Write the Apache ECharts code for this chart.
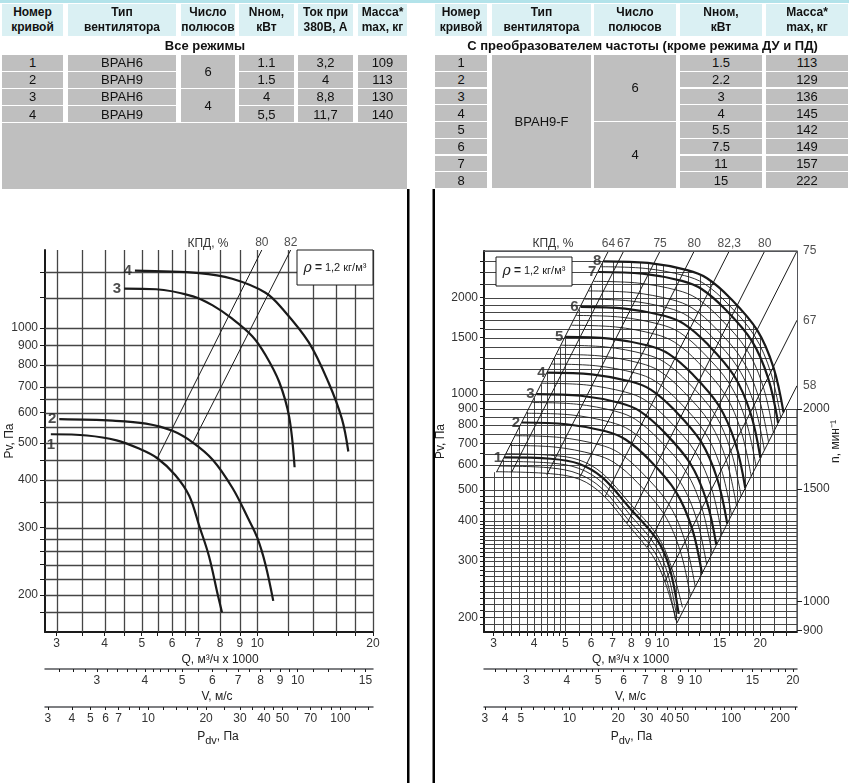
<!DOCTYPE html>
<html>
<head>
<meta charset="utf-8">
<script src="https://cdn.jsdelivr.net/npm/echarts/dist/echarts.min.js"></script>
<style>
html, body { margin: 0; padding: 0; background: #fff; }
#wrap { position: relative; width: 851px; height: 783px; overflow: hidden; }
#chart { position: absolute; left: 0; top: 0; width: 851px; height: 783px; }
#tables { position: absolute; left: 0; top: 0; width: 851px; height: 190px; }
.cell { position: absolute; display: flex; align-items: center; justify-content: center;
        text-align: center; box-sizing: border-box; white-space: pre-line; color: #111; }
.hd { background: #daf0f3; font: bold 12px 'Liberation Sans Narrow', 'Arial Narrow', 'Liberation Sans', sans-serif; line-height: 15px; }
.bd { background: #bfbfbf; font: 13px 'Liberation Sans', Arial, sans-serif; }
.ttl { position: absolute; top: 38px; height: 17px; line-height: 17px; text-align: center;
       font: bold 13px 'Liberation Sans', Arial, sans-serif; color: #111; }
.stripe { position: absolute; left: 0; top: 0; width: 849px; height: 3px; background: #b3e3ea; }
</style>
</head>
<body>
<div id="wrap">
  <div id="chart"></div>
  <div id="tables"></div>
</div>
<script>
'use strict';

// ---------- tables
const headL = ['Номер\nкривой', 'Тип\nвентилятора', 'Число\nполюсов', 'Nном,\nкВт', 'Ток при\n380В, А', 'Масса*\nmax, кг'];
const headR = ['Номер\nкривой', 'Тип\nвентилятора', 'Число\nполюсов', 'Nном,\nкВт', 'Масса*\nmax, кг'];
const titleL = 'Все режимы';
const titleR = 'С преобразователем частоты (кроме режима ДУ и ПД)';

const curveNoL = ['1', '2', '3', '4'];
const fanL = ['ВРАН6', 'ВРАН9', 'ВРАН6', 'ВРАН9'];
const polesL = [['6', 0, 2], ['4', 2, 4]];
const powerL = ['1.1', '1.5', '4', '5,5'];
const currentL = ['3,2', '4', '8,8', '11,7'];
const massL = ['109', '113', '130', '140'];

const curveNoR = ['1', '2', '3', '4', '5', '6', '7', '8'];
const fanR = [['ВРАН9-F', 0, 8]];
const polesR = [['6', 0, 4], ['4', 4, 8]];
const powerR = ['1.5', '2.2', '3', '4', '5.5', '7.5', '11', '15'];
const massR = ['113', '129', '136', '145', '142', '149', '157', '222'];

// ---------- left chart (Q in 1000 m3/h, Pv in Pa)
const qTicksL = [3, 3.5, 4, 4.5, 5, 5.5, 6, 6.5, 7, 8, 9, 10, 12, 14, 16, 18, 20];
const qLabelsL = [3, 4, 5, 6, 7, 8, 9, 10, 20];
const pTicksL = [180, 200, 220, 240, 260, 280, 300, 350, 400, 450, 500, 550, 600, 650, 700, 800, 900, 1000, 1200, 1400];
const pLabelsL = [200, 300, 400, 500, 600, 700, 800, 900, 1000];
const vTicksL = [2.4, 2.6, 2.8, 3, 3.2, 3.4, 3.6, 3.8, 4, 4.2, 4.4, 4.6, 4.8, 5, 5.5, 6, 6.5, 7, 7.5, 8, 8.5, 9, 9.5, 10, 11, 12, 13, 14, 15];
const vLabelsL = [3, 4, 5, 6, 7, 8, 9, 10, 15];
const pdTicksL = [3, 4, 5, 6, 7, 8, 9, 10, 12, 14, 16, 18, 20, 25, 30, 35, 40, 45, 50, 60, 70, 80, 90, 100, 120, 140];
const pdLabelsL = [3, 4, 5, 6, 7, 10, 20, 30, 40, 50, 70, 100];

const curveL1 = [[2.9, 527], [3.6, 523], [4.3, 508], [4.9, 484], [5.49, 456], [6.11, 412], [6.65, 363], [7.06, 303], [7.48, 253], [7.89, 200], [8.09, 180]];
const curveL2 = [[3.05, 577], [4.2, 572], [5.13, 562], [6.01, 538], [6.78, 502], [7.65, 452], [8.63, 380], [9.45, 318], [10, 282], [10.5, 240], [11, 193]];
const curveL3 = [[4.5, 1267], [5.45, 1263], [6.8, 1210], [7.65, 1146], [8.6, 1058], [9.7, 952], [10.5, 850], [11.4, 722], [12.1, 585], [12.5, 432]];
const curveL4 = [[4.8, 1413], [7.05, 1392], [8.6, 1345], [10.5, 1237], [11.6, 1125], [13.6, 918], [15.3, 722], [16.6, 578], [17.25, 475]];
const effL80 = [[5.49, 456], [10.27, 1600]];
const effL82 = [[6.81, 504], [12.21, 1600]];

// ---------- right chart
const qTicksR = [3, 3.2, 3.4, 3.6, 3.8, 4, 4.2, 4.4, 4.6, 4.8, 5, 5.5, 6, 6.5, 7, 7.5, 8, 8.5, 9, 9.5, 10, 11, 12, 13, 14, 15, 16, 17, 18, 19, 20, 22, 24];
const qLabelsR = [3, 4, 5, 6, 7, 8, 9, 10, 15, 20];
const pTicksR = [190, 200, 210, 220, 230, 240, 250, 260, 270, 280, 290, 300, 310, 320, 330, 340, 350, 360, 370, 380, 390, 400,
  420, 440, 460, 480, 500, 550, 600, 650, 700, 750, 800, 850, 900, 950, 1000,
  1100, 1200, 1300, 1400, 1500, 1600, 1700, 1800, 1900, 2000, 2200, 2400, 2600];
const pLabelsR = [200, 300, 400, 500, 600, 700, 800, 900, 1000, 1500, 2000];
const vTicksR = [2.4, 2.6, 2.8, 3, 3.2, 3.4, 3.6, 3.8, 4, 4.2, 4.4, 4.6, 4.8, 5, 5.5, 6, 6.5, 7, 7.5, 8, 8.5, 9, 9.5, 10, 11, 12, 13, 14, 15, 16, 17, 18, 19, 20];
const vLabelsR = [3, 4, 5, 6, 7, 8, 9, 10, 15, 20];
const pdTicksR = [3, 4, 5, 6, 7, 8, 9, 10, 12, 14, 16, 18, 20, 25, 30, 35, 40, 45, 50, 60, 70, 80, 90, 100, 120, 140, 160, 180, 200, 250];
const pdLabelsR = [3, 4, 5, 10, 20, 30, 40, 50, 100, 200];
const nLabels = [900, 1000, 1500, 2000];

// thick curves at nominal speed
const curveR1 = [[3.23, 633], [4.5, 627], [5.5, 605], [6.5, 548], [7.9, 440], [9.6, 350], [10.5, 285], [11.2, 205]];
const curveR2 = [[3.67, 814], [5.04, 804], [6.66, 764], [7.67, 720], [9.07, 623], [10.97, 495], [12.32, 379], [13.22, 274]];
const curveR3 = [[4.07, 999], [5.58, 987], [7.38, 937], [8.49, 884], [10.04, 764], [12.15, 607], [13.64, 465], [14.64, 337]];
const curveR4 = [[4.4, 1166], [6.03, 1152], [7.97, 1094], [9.18, 1032], [10.85, 892], [13.13, 709], [14.74, 542], [15.82, 393]];
const curveR5 = [[5.0, 1508], [6.85, 1490], [9.07, 1415], [10.43, 1335], [12.34, 1154], [14.93, 917], [16.77, 701], [17.99, 508]];
const curveR6 = [[5.57, 1872], [7.64, 1850], [10.1, 1756], [11.62, 1657], [13.75, 1432], [16.63, 1138], [18.68, 870], [20.04, 631]];
const curveR7 = [[6.32, 2407], [8.66, 2378], [11.46, 2258], [13.18, 2130], [15.59, 1841], [18.87, 1463], [21.18, 1119], [22.73, 811]];
const curveR8 = [[6.55, 2600], [9.0, 2569], [11.9, 2439], [13.7, 2301], [16.2, 1989], [19.6, 1581], [22.0, 1209], [23.62, 876]];

// thin curves (other converter frequencies)
const thin2500 = [[6.44, 2500], [8.82, 2470], [11.67, 2345], [13.43, 2213], [15.89, 1913], [19.22, 1520], [21.59, 1163], [23.16, 843]];
const thin2250 = [[6.11, 2250], [8.37, 2223], [11.07, 2111], [12.74, 1991], [15.07, 1721], [18.24, 1368], [20.48, 1046], [21.97, 758]];
const thin2100 = [[5.9, 2100], [8.09, 2075], [10.7, 1970], [12.31, 1859], [14.56, 1607], [17.62, 1277], [19.79, 977], [21.23, 708]];
const thin1980 = [[5.73, 1980], [7.85, 1956], [10.39, 1857], [11.95, 1752], [14.14, 1515], [17.11, 1204], [19.21, 921], [20.61, 667]];
const thin1760 = [[5.4, 1760], [7.4, 1739], [9.79, 1651], [11.27, 1558], [13.33, 1346], [16.13, 1070], [18.11, 818], [19.43, 593]];
const thin1640 = [[5.22, 1640], [7.15, 1620], [9.46, 1538], [10.88, 1451], [12.87, 1255], [15.57, 997], [17.48, 763], [18.76, 553]];
const thin1420 = [[4.85, 1420], [6.65, 1403], [8.8, 1332], [10.13, 1257], [11.98, 1086], [14.49, 863], [16.27, 660], [17.46, 479]];
const thin1330 = [[4.7, 1330], [6.44, 1314], [8.51, 1248], [9.8, 1177], [11.59, 1017], [14.02, 809], [15.74, 618], [16.89, 448]];
const thin1240 = [[4.53, 1240], [6.21, 1225], [8.22, 1163], [9.46, 1097], [11.19, 949], [13.54, 754], [15.2, 577], [16.31, 418]];
const thin1080 = [[4.23, 1080], [5.8, 1067], [7.67, 1013], [8.83, 956], [10.44, 826], [12.63, 657], [14.19, 502], [15.22, 364]];
const thin940 = [[3.95, 940], [5.41, 929], [7.16, 882], [8.24, 832], [9.74, 719], [11.79, 572], [13.23, 437], [14.2, 317]];
const thin870 = [[3.8, 870], [5.2, 860], [6.88, 816], [7.92, 770], [9.37, 666], [11.34, 529], [12.73, 405], [13.66, 293]];
const thin740 = [[3.5, 740], [4.8, 731], [6.35, 694], [7.31, 655], [8.64, 566], [10.46, 450], [11.74, 344], [12.6, 249]];
const thin690 = [[3.38, 690], [4.64, 682], [6.13, 647], [7.06, 611], [8.35, 528], [10.1, 420], [11.34, 321], [12.17, 233]];
const thin650 = [[3.27, 650], [4.5, 643], [5.5, 622], [6.5, 565], [7.9, 455], [9.6, 362], [10.6, 290], [11.5, 215]];
const thin615 = [[3.18, 615], [4.5, 608], [5.5, 585], [6.5, 528], [7.9, 420], [9.5, 335], [10.4, 270], [11.05, 200]];
const thin595 = [[3.13, 595], [4.5, 587], [5.5, 562], [6.5, 505], [7.8, 405], [9.4, 322], [10.3, 260], [10.95, 196]];
const thin571 = [[3.06, 571], [4.5, 563], [5.55, 540], [6.5, 485], [7.8, 390], [9.3, 312], [10.2, 255], [11.07, 192]];

// efficiency lines (КПД, %): bottom end, far end
const effNamesR = ['64', '67', '75', '80', '82,3', '80', '75', '67', '58'];
const effR = [
  [[3.06, 569], [6.79, 2800]],
  [[3.41, 569], [7.57, 2800]],
  [[4.38, 558], [9.81, 2800]],
  [[5.55, 551], [12.51, 2800]],
  [[6.62, 476], [16.05, 2800]],
  [[7.75, 394], [20.66, 2800]],
  [[8.95, 332], [26, 2800]],
  [[10.15, 259], [26, 1701]],
  [[11.07, 192.4], [26, 1061]]
];
const pvAt2000rpm = 897;

// ---------- build the tables
const tables = document.getElementById('tables');
function cell(x0, x1, y0, y1, text, cls) {
  const d = document.createElement('div');
  d.className = 'cell ' + cls;
  d.style.cssText = `left:${x0}px;top:${y0}px;width:${x1 - x0}px;height:${y1 - y0}px`;
  d.textContent = text;
  tables.appendChild(d);
}
(function () {
  const s = document.createElement('div'); s.className = 'stripe'; tables.appendChild(s);

  const colsL = [[2, 63], [68, 176], [181, 235], [239, 294], [298, 353], [358, 407]];
  const colsR = [[435, 487], [492, 591], [594, 676], [680, 762], [766, 848]];
  headL.forEach((t, i) => cell(colsL[i][0], colsL[i][1], 4, 36, t, 'hd'));
  headR.forEach((t, i) => cell(colsR[i][0], colsR[i][1], 4, 36, t, 'hd'));

  const tl = document.createElement('div'); tl.className = 'ttl';
  tl.style.left = '0px'; tl.style.width = '410px'; tl.textContent = titleL; tables.appendChild(tl);
  const tr = document.createElement('div'); tr.className = 'ttl';
  tr.style.left = '434px'; tr.style.width = '417px'; tr.textContent = titleR; tables.appendChild(tr);

  const rh = 15.6;
  const yL = i => 55 + i * 17.1;
  curveNoL.forEach((_, i) => {
    cell(colsL[0][0], colsL[0][1], yL(i), yL(i) + rh, curveNoL[i], 'bd');
    cell(colsL[1][0], colsL[1][1], yL(i), yL(i) + rh, fanL[i], 'bd');
    cell(colsL[3][0], colsL[3][1], yL(i), yL(i) + rh, powerL[i], 'bd');
    cell(colsL[4][0], colsL[4][1], yL(i), yL(i) + rh, currentL[i], 'bd');
    cell(colsL[5][0], colsL[5][1], yL(i), yL(i) + rh, massL[i], 'bd');
  });
  polesL.forEach(([t, a, b]) => cell(colsL[2][0], colsL[2][1], yL(a), yL(b - 1) + rh, t, 'bd'));
  cell(2, 407, 123, 189, '', 'bd');

  const yR = i => 55 + i * 16.75;
  curveNoR.forEach((_, i) => {
    cell(colsR[0][0], colsR[0][1], yR(i), yR(i) + rh, curveNoR[i], 'bd');
    cell(colsR[3][0], colsR[3][1], yR(i), yR(i) + rh, powerR[i], 'bd');
    cell(colsR[4][0], colsR[4][1], yR(i), yR(i) + rh, massR[i], 'bd');
  });
  fanR.forEach(([t, a, b]) => cell(colsR[1][0], colsR[1][1], yR(a), yR(b - 1) + rh, t, 'bd'));
  polesR.forEach(([t, a, b]) => cell(colsR[2][0], colsR[2][1], yR(a), yR(b - 1) + rh, t, 'bd'));
})();

// ---------- chart
const FONT = "'Liberation Sans Narrow', 'Arial Narrow', 'Liberation Sans', Arial, sans-serif";
const INK = '#1a1a1a';
const GRIDC = '#454545';
const fmt = v => String(Number((+v).toPrecision(4)));

function merge(base, extra) {
  const out = Object.assign({}, base);
  for (const k in extra) {
    const a = base[k], b = extra[k];
    out[k] = (a && b && typeof a === 'object' && typeof b === 'object' && !Array.isArray(a) && !Array.isArray(b))
      ? Object.assign({}, a, b) : b;
  }
  return out;
}
const axisBase = {
  type: 'log', logBase: 10,
  axisLine: {show: true, onZero: false, lineStyle: {color: INK, width: 2}},
  axisTick: {show: true, inside: false, length: 4, lineStyle: {color: INK, width: 1}},
  axisLabel: {show: true, color: '#333', fontFamily: FONT, fontSize: 12, margin: 6, hideOverlap: false, formatter: fmt},
  splitLine: {show: false}, minorTick: {show: false}, minorSplitLine: {show: false},
  nameLocation: 'middle', nameMoveOverlap: false,
  nameTextStyle: {color: '#222', fontFamily: FONT, fontSize: 12},
  silent: true
};
const logAxis = o => merge(axisBase, o);
const pdvName = '{a|P}{s|dv}{a|, Па}';
const pdvRich = {
  a: {fontSize: 12, fontFamily: FONT, color: '#222'},
  s: {fontSize: 11, fontFamily: FONT, color: '#222', padding: [7, 0, 0, 0]}
};

function vGrid(xi, yi, rows, w) {
  return {
    type: 'custom', xAxisIndex: xi, yAxisIndex: yi, silent: true, animation: false,
    data: rows, encode: {x: 0, y: [1, 2]},
    renderItem: (p, api) => {
      const a = api.coord([api.value(0), api.value(1)]);
      const b = api.coord([api.value(0), api.value(2)]);
      const x = Math.round(a[0]) + 0.5;
      return {type: 'line', shape: {x1: x, y1: a[1], x2: x, y2: b[1]}, style: {stroke: GRIDC, lineWidth: w}};
    }
  };
}
function hGrid(xi, yi, rows, w) {
  return {
    type: 'custom', xAxisIndex: xi, yAxisIndex: yi, silent: true, animation: false,
    data: rows, encode: {y: 0, x: [1, 2]},
    renderItem: (p, api) => {
      const a = api.coord([api.value(1), api.value(0)]);
      const b = api.coord([api.value(2), api.value(0)]);
      const y = Math.round(a[1]) + 0.5;
      return {type: 'line', shape: {x1: a[0], y1: y, x2: b[0], y2: y}, style: {stroke: GRIDC, lineWidth: w}};
    }
  };
}
function curve(xi, yi, pts, w, smooth) {
  return {
    type: 'line', xAxisIndex: xi, yAxisIndex: yi, data: pts, showSymbol: false, symbol: 'none',
    smooth: smooth, silent: true, animation: false, lineStyle: {color: INK, width: w}
  };
}
function tags(xi, yi, items, style) {
  return {
    type: 'scatter', xAxisIndex: xi, yAxisIndex: yi, symbolSize: 0, silent: true, animation: false,
    data: items,
    label: Object.assign({show: true, formatter: '{b}', color: '#222', fontFamily: FONT, fontSize: 12}, style)
  };
}

// vertical grid of right chart stops at the 64 % line in the upper left corner
const lineA = effR[0];
const kA = lineA[0][1] / (lineA[0][0] * lineA[0][0]);
const topOfGridR = q => q <= lineA[0][0] ? lineA[0][1] : Math.min(2800, kA * q * q);
// white mask above the highest curve
const maskR = [lineA[1]].concat(curveR8, [[curveR8[curveR8.length - 1][0], pvAt2000rpm], [26, pvAt2000rpm], [26, 2800]]);

const curvesL = [curveL1, curveL2, curveL3, curveL4];
const thickR = [curveR1, curveR2, curveR3, curveR4, curveR5, curveR6, curveR7, curveR8];
const thinR = [thin2500, thin2250, thin2100, thin1980, thin1760, thin1640, thin1420, thin1330, thin1240,
  thin1080, thin940, thin870, thin740, thin690, thin650, thin615, thin595, thin571];

const numStyle = {fontSize: 15, fontWeight: 'bold', fontFamily: "'Liberation Sans', Arial, sans-serif", color: '#222'};
const labelPosL = ['bottom', 'left', 'left', 'left'];

const series = [
  // left
  vGrid(0, 0, qTicksL.map(q => [q, 160, 1600]), 1.3),
  hGrid(0, 0, pTicksL.map(p => [p, 2.8, 20]), 1.3),
  curve(0, 0, effL80, 1, false),
  curve(0, 0, effL82, 1, false),
  ...curvesL.map(c => curve(0, 0, c, 2.2, 0.35)),
  tags(0, 0, curvesL.map((c, i) => ({name: String(i + 1), value: c[0], label: {position: labelPosL[i]}})),
    Object.assign({distance: 3}, numStyle)),
  tags(0, 0, [{name: '80', value: effL80[1]}, {name: '82', value: effL82[1]}], {position: 'top', distance: 1}),
  // right
  vGrid(3, 1, qTicksR.map(q => [q, 180, topOfGridR(q)]), 1),
  hGrid(3, 1, pTicksR.map(p => [p, 2.8, 26]), 1),
  {
    type: 'custom', xAxisIndex: 3, yAxisIndex: 1, silent: true, animation: false,
    data: [[10, 1000]], encode: {x: 0, y: 1},
    renderItem: (p, api) => ({type: 'polygon', shape: {points: maskR.map(pt => api.coord(pt))}, style: {fill: '#fff'}})
  },
  ...effR.map(l => curve(3, 1, l, 1, false)),
  ...thinR.map(c => curve(3, 1, c, 0.9, 0.35)),
  ...thickR.map(c => curve(3, 1, c, 2.2, 0.35)),
  tags(3, 1, thickR.map((c, i) => ({name: String(i + 1), value: c[0]})), Object.assign({position: 'left', distance: 2}, numStyle)),
  tags(3, 1, effR.map((l, i) => ({
    name: effNamesR[i], value: l[1],
    label: l[1][1] >= 2800 && l[1][0] < 26 ? {position: 'top', distance: 1} : {position: 'right', distance: 6}
  })), {})
];

const chart = echarts.init(document.getElementById('chart'), null, {renderer: 'canvas'});
chart.setOption({
  animation: false,
  backgroundColor: '#fff',
  grid: [
    {left: 45, top: 250, width: 328, height: 382, containLabel: false, outerBoundsMode: 'none', show: false},
    {left: 484, top: 251, width: 313, height: 381, containLabel: false, outerBoundsMode: 'none',
      show: true, borderColor: INK, borderWidth: 1, backgroundColor: 'transparent'}
  ],
  xAxis: [
    logAxis({gridIndex: 0, position: 'bottom', min: 2.8, max: 20, axisTick: {customValues: qTicksL}, axisLabel: {customValues: qLabelsL},
      name: 'Q, м³/ч x 1000', nameGap: 22, nameTextStyle: {padding: [0, 0, 0, 22]}}),
    logAxis({gridIndex: 0, position: 'bottom', min: 2.2, max: 15.7, offset: 37, axisLine: {lineStyle: {width: 1.5}},
      axisTick: {customValues: vTicksL, length: 3}, axisLabel: {customValues: vLabelsL},
      name: 'V, м/с', nameGap: 22, nameTextStyle: {padding: [0, 0, 0, 16]}}),
    logAxis({gridIndex: 0, position: 'bottom', min: 2.9, max: 148, offset: 75, axisLine: {lineStyle: {width: 1.5}},
      axisTick: {customValues: pdTicksL, length: 3}, axisLabel: {customValues: pdLabelsL},
      name: pdvName, nameGap: 21, nameTextStyle: {rich: pdvRich, padding: [0, 0, 0, 18]}}),
    logAxis({gridIndex: 1, position: 'bottom', min: 2.8, max: 26, axisTick: {customValues: qTicksR}, axisLabel: {customValues: qLabelsR},
      name: 'Q, м³/ч x 1000', nameGap: 22, nameTextStyle: {padding: [0, 20, 0, 0]}}),
    logAxis({gridIndex: 1, position: 'bottom', min: 2.22, max: 20.6, offset: 37, axisLine: {lineStyle: {width: 1.5}},
      axisTick: {customValues: vTicksR, length: 3}, axisLabel: {customValues: vLabelsR},
      name: 'V, м/с', nameGap: 22, nameTextStyle: {padding: [0, 20, 0, 0]}}),
    logAxis({gridIndex: 1, position: 'bottom', min: 2.96, max: 255, offset: 75, axisLine: {lineStyle: {width: 1.5}},
      axisTick: {customValues: pdTicksR, length: 3}, axisLabel: {customValues: pdLabelsR},
      name: pdvName, nameGap: 21, nameTextStyle: {rich: pdvRich, padding: [0, 18, 0, 0]}}),
    logAxis({gridIndex: 1, position: 'top', min: 2.8, max: 26, axisLine: {lineStyle: {width: 1}},
      axisTick: {show: false}, axisLabel: {show: false}, z: 10})
  ],
  yAxis: [
    logAxis({gridIndex: 0, position: 'left', min: 160, max: 1600, axisTick: {customValues: pTicksL, length: 5},
      axisLabel: {customValues: pLabelsL, margin: 7}, name: 'Pv, Па', nameRotate: 90, nameGap: 29}),
    logAxis({gridIndex: 1, position: 'left', min: 180, max: 2800, axisTick: {customValues: pTicksR, length: 4},
      axisLabel: {customValues: pLabelsR}, name: 'Pv, Па', nameRotate: 90, nameGap: 37}),
    logAxis({gridIndex: 1, position: 'right', min: 895.9, max: 3533.6, axisLine: {lineStyle: {width: 1}},
      axisTick: {customValues: nLabels, length: 5}, axisLabel: {customValues: nLabels},
      name: 'n, мин⁻¹', nameRotate: 90, nameGap: 33, z: 10})
  ],
  graphic: [
    {type: 'rect', z: 100, shape: {x: 407, y: 189, width: 2.5, height: 594}, style: {fill: '#000'}},
    {type: 'rect', z: 100, shape: {x: 432.5, y: 189, width: 2.5, height: 594}, style: {fill: '#000'}},
    {type: 'rect', z: 100, shape: {x: 297, y: 250, width: 76, height: 35}, style: {fill: '#fff', stroke: INK, lineWidth: 1}},
    {type: 'rect', z: 100, shape: {x: 496, y: 257, width: 76, height: 29}, style: {fill: '#fff', stroke: INK, lineWidth: 1}},
    {type: 'text', z: 101, x: 335, y: 268, style: {
      text: '{r|ρ} {e|=} 1,2 кг/м³', align: 'center', verticalAlign: 'middle', fontFamily: FONT, fontSize: 11, fill: '#222',
      rich: {r: {fontStyle: 'italic', fontSize: 14, fontFamily: 'DejaVu Serif', fill: '#222'}, e: {fontWeight: 'bold', fontSize: 12, fill: '#222'}}}},
    {type: 'text', z: 101, x: 534, y: 271, style: {
      text: '{r|ρ} {e|=} 1,2 кг/м³', align: 'center', verticalAlign: 'middle', fontFamily: FONT, fontSize: 11, fill: '#222',
      rich: {r: {fontStyle: 'italic', fontSize: 14, fontFamily: 'DejaVu Serif', fill: '#222'}, e: {fontWeight: 'bold', fontSize: 12, fill: '#222'}}}},
    {type: 'text', z: 101, x: 208, y: 244, style: {text: 'КПД, %', align: 'center', verticalAlign: 'middle', fontFamily: FONT, fontSize: 12, fill: '#333'}},
    {type: 'text', z: 101, x: 553, y: 244, style: {text: 'КПД, %', align: 'center', verticalAlign: 'middle', fontFamily: FONT, fontSize: 12, fill: '#333'}}
  ],
  series: series
});
</script>
</body>
</html>
